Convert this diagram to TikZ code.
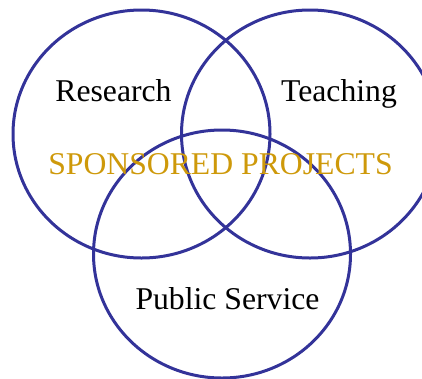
\documentclass[tikz,border=0pt]{standalone}
\usepackage{fontspec}
\setmainfont{Liberation Serif}
\usetikzlibrary{shapes.geometric}
\definecolor{ringblue}{RGB}{51,51,153}
\definecolor{gold}{RGB}{206,153,10}
\begin{document}
\begin{tikzpicture}[x=1pt,y=-1pt,
  ring/.style={draw=ringblue,line width=3pt,ellipse,minimum width=257pt,minimum height=248pt,inner sep=0pt,outer sep=0pt},
  lbl/.style={anchor=base,inner sep=0pt,font=\fontsize{31.7}{38}\selectfont}]
\useasboundingbox (0,0) rectangle (422,378);
\node[ring] (research) at (141.5,134) {};
\node[ring] (teaching) at (310,134) {};
\node[ring] (service) at (222,254) {};
\node[lbl] (tres) at (113.5,101) {Research};
\node[lbl] (tteach) at (339,101) {Teaching};
\node[lbl] (tpub) at (227.5,309) {Public Service};
\node[lbl,text=gold] (tsp) at (220.5,174) {SPONSORED PROJECTS};
\end{tikzpicture}
\end{document}
